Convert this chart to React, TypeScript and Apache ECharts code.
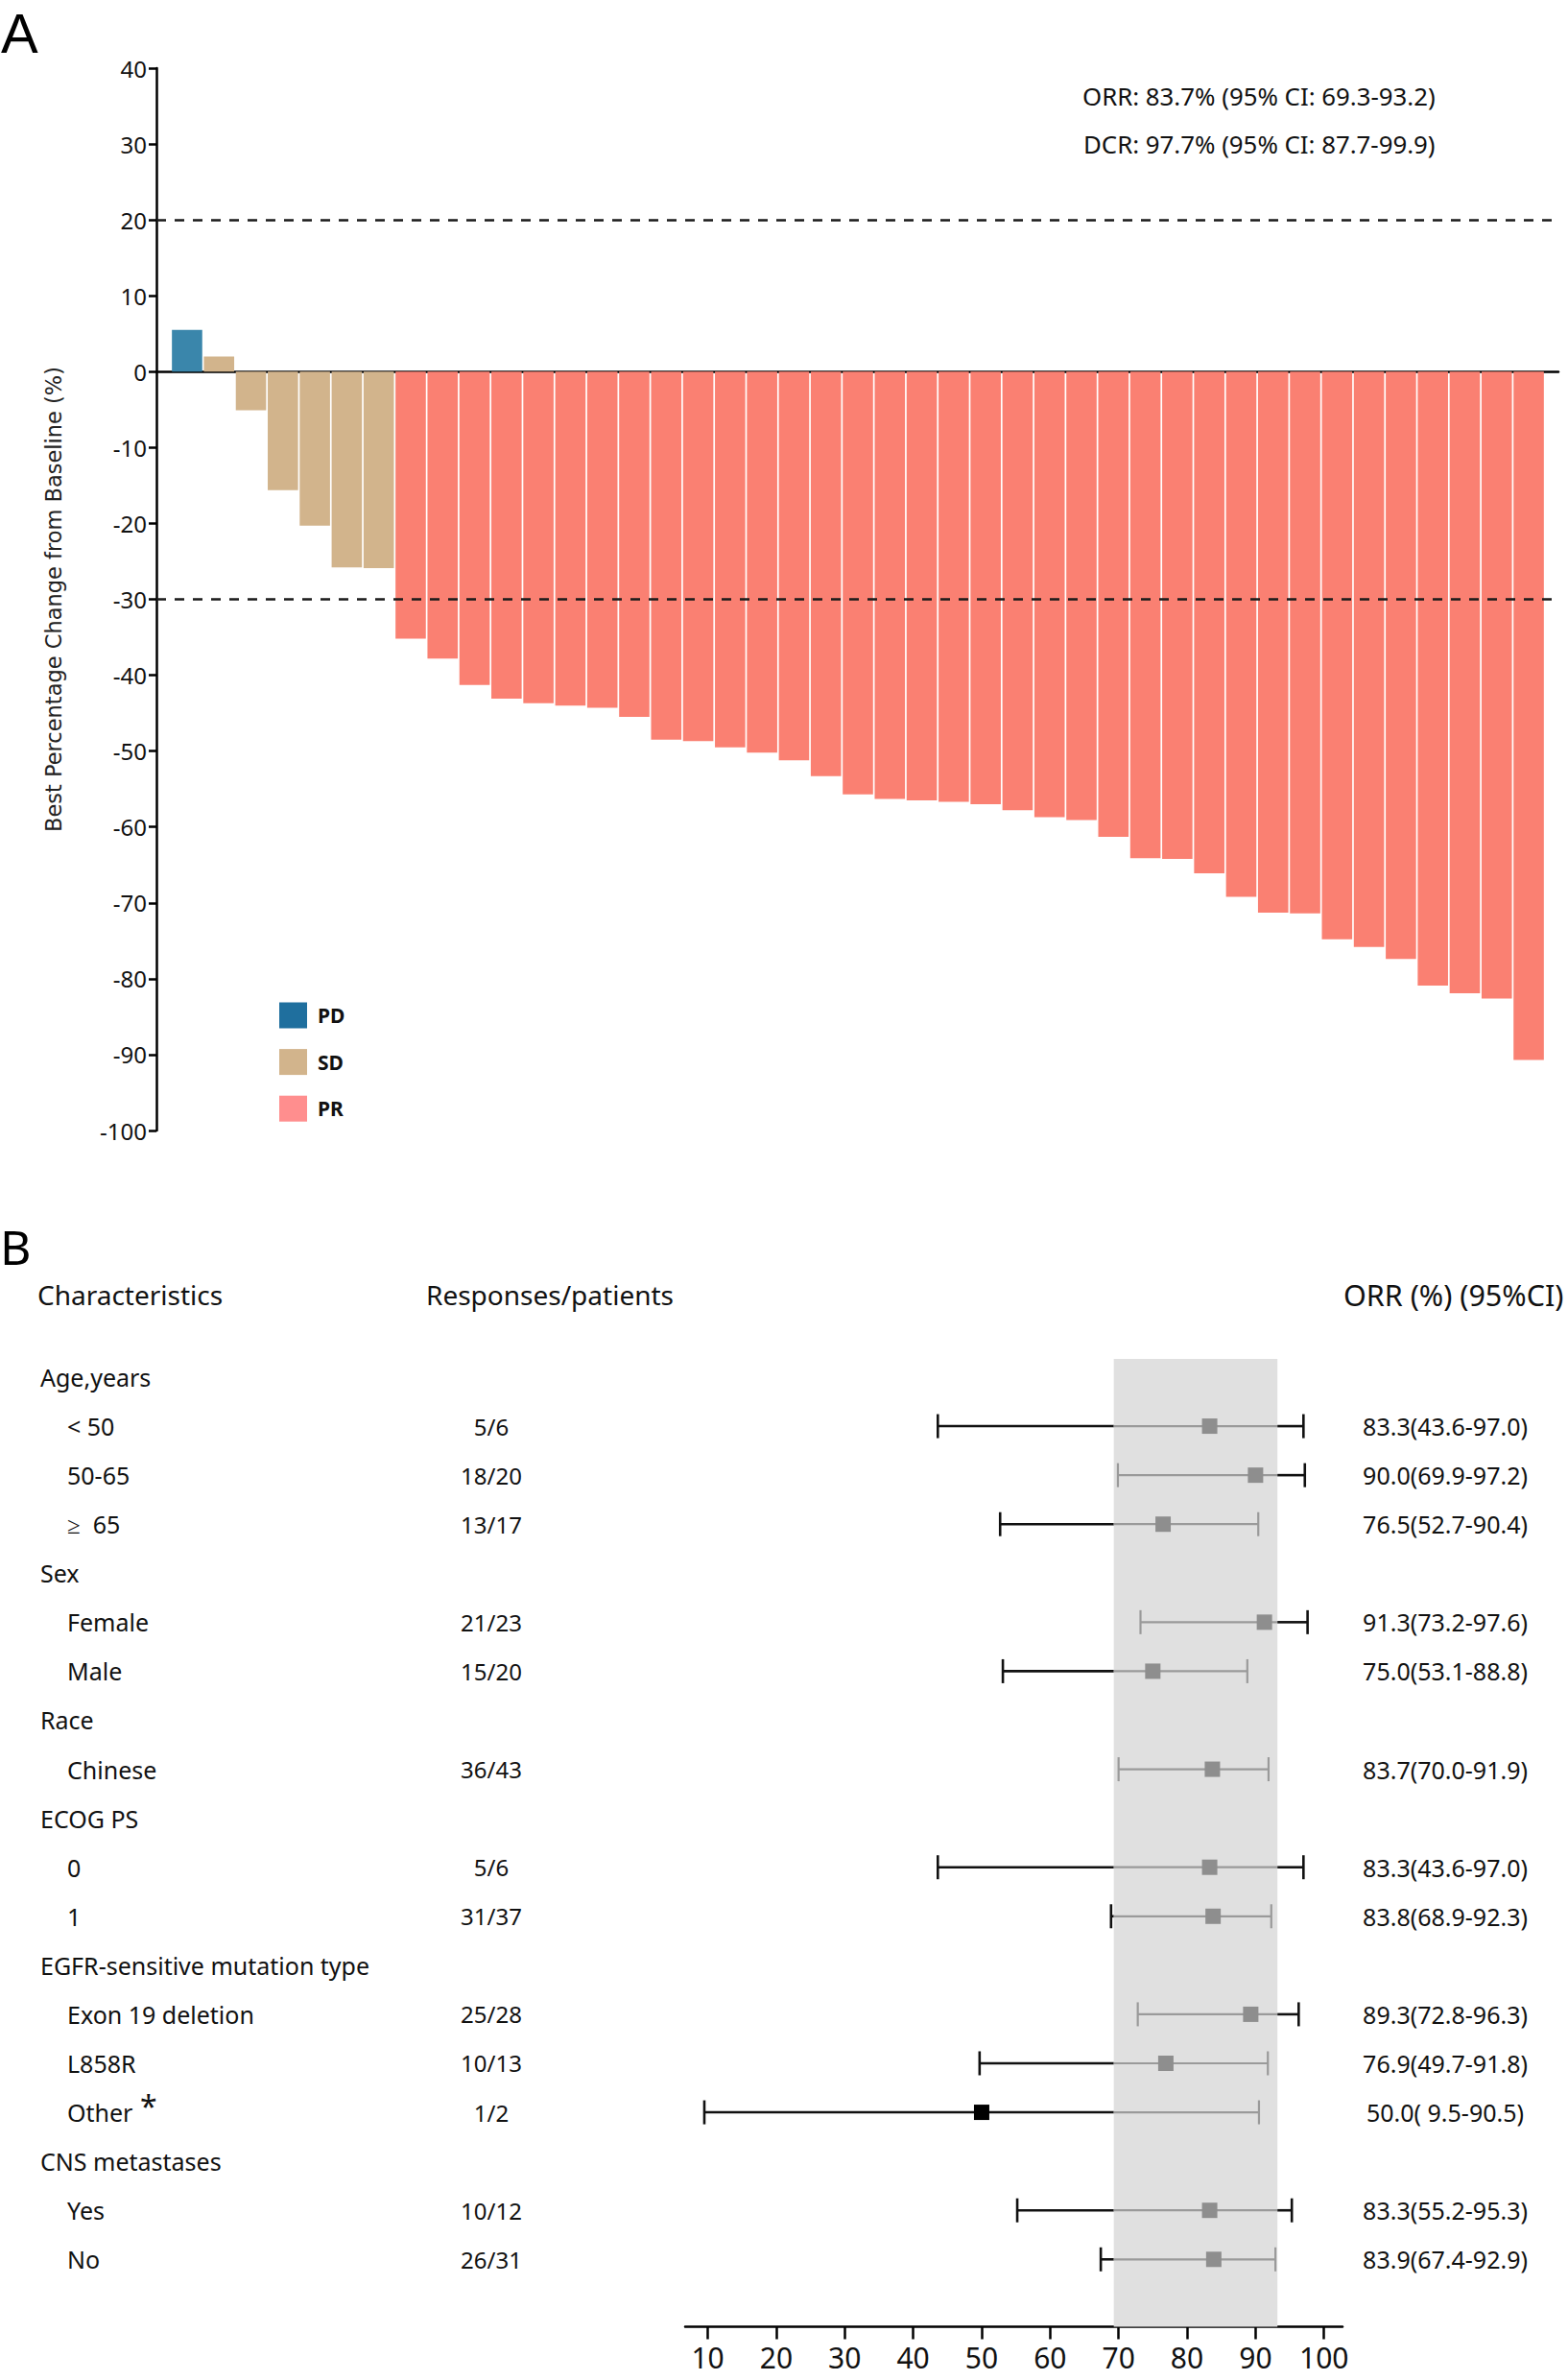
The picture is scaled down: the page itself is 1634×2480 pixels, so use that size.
import React, { useEffect, useRef } from "react";
import * as echarts from "echarts";

// ---------- Panel A: waterfall data ----------
const pdValues = [5.5];
const sdValues = [2.0, -5.1, -15.6, -20.3, -25.8, -25.9];
const prValues = [
  -35.2, -37.8, -41.3, -43.1, -43.7, -44.0, -44.3, -45.5, -48.5, -48.7, -49.5, -50.2,
  -51.2, -53.3, -55.7, -56.3, -56.5, -56.7, -57.0, -57.8, -58.7, -59.1, -61.3, -64.1,
  -64.2, -66.1, -69.2, -71.3, -71.4, -74.8, -75.8, -77.4, -80.9, -81.9, -82.6, -90.7,
];
const yMin = -100;
const yMax = 40;
const yStep = 10;
const progressionLine = 20;
const responseLine = -30;
const orrText = "ORR: 83.7% (95% CI: 69.3-93.2)";
const dcrText = "DCR: 97.7% (95% CI: 87.7-99.9)";

// ---------- Panel B: forest data ----------
const rowLabels = [
  "Age,years", "< 50", "50-65", "\u2265  65", "Sex", "Female", "Male", "Race", "Chinese",
  "ECOG PS", "0", "1", "EGFR-sensitive mutation type", "Exon 19 deletion", "L858R", "Other",
  "CNS metastases", "Yes", "No",
];
const rowIsGroup = [
  true, false, false, false, true, false, false, true, false, true, false, false, true, false,
  false, false, true, false, false,
];
const rowFootnote = [
  false, false, false, false, false, false, false, false, false, false, false, false, false,
  false, false, true, false, false, false,
];
const responses = [
  "", "5/6", "18/20", "13/17", "", "21/23", "15/20", "", "36/43", "", "5/6", "31/37", "",
  "25/28", "10/13", "1/2", "", "10/12", "26/31",
];
const orrEst = [null, 83.3, 90.0, 76.5, null, 91.3, 75.0, null, 83.7, null, 83.3, 83.8, null, 89.3, 76.9, 50.0, null, 83.3, 83.9];
const ciLow = [null, 43.6, 69.9, 52.7, null, 73.2, 53.1, null, 70.0, null, 43.6, 68.9, null, 72.8, 49.7, 9.5, null, 55.2, 67.4];
const ciHigh = [null, 97.0, 97.2, 90.4, null, 97.6, 88.8, null, 91.9, null, 97.0, 92.3, null, 96.3, 91.8, 90.5, null, 95.3, 92.9];
const overallLow = 69.3;
const overallHigh = 93.2;
const forestTicks = [10, 20, 30, 40, 50, 60, 70, 80, 90, 100];

const FONT = "Noto Sans";
const BLACK = "#111111";
const GRAY_LINE = "#9a9a9a";
const GRAY_BOX = "#8e8e8e";

function fmtOrr(i: number) {
  const e = orrEst[i] as number;
  const lo = ciLow[i] as number;
  const hi = ciHigh[i] as number;
  return e.toFixed(1) + "(" + lo.toFixed(1).padStart(4, " ") + "-" + hi.toFixed(1) + ")";
}

export default function App() {
  const ref = useRef<HTMLDivElement | null>(null);

  useEffect(() => {
    if (!ref.current) return;
    const chart = echarts.init(ref.current, null, { renderer: "svg" });

    const pdData = pdValues.map((v, k) => [k, v]);
    const sdData = sdValues.map((v, k) => [pdValues.length + k, v]);
    const prData = prValues.map((v, k) => [pdValues.length + sdValues.length + k, v]);

    const ciData = rowLabels
      .map((_, i) => (orrEst[i] == null ? null : [i, orrEst[i], ciLow[i], ciHigh[i]]))
      .filter((d) => d !== null);
    const textData = rowLabels.map((_, i) => [50, i]);

    const barCommon = {
      type: "bar",
      xAxisIndex: 0,
      yAxisIndex: 0,
      barWidth: 31.6,
      barGap: "-100%",
    };

    const option: any = {
      animation: false,
      backgroundColor: "#ffffff",
      textStyle: { fontFamily: FONT },
      grid: [
        { left: 163, top: 71, width: 1461, height: 1107 },
        { left: 714, top: 1416, width: 685, height: 1008.5 },
      ],
      legend: {
        orient: "vertical",
        left: 291,
        top: 1044.5,
        padding: 0,
        itemWidth: 29,
        itemHeight: 27,
        itemGap: 21.6,
        icon: "rect",
        textStyle: { fontSize: 21, fontWeight: "bold", color: BLACK, fontFamily: FONT, padding: [0, 0, 0, 6] },
        data: [
          { name: "PD", itemStyle: { color: "#1f6f9e" } },
          { name: "SD", itemStyle: { color: "#d2b48c" } },
          { name: "PR", itemStyle: { color: "#ff8e8e" } },
        ],
      },
      xAxis: [
        {
          gridIndex: 0,
          type: "value",
          min: -0.96,
          max: 42.93,
          axisLine: { show: true, onZero: true, lineStyle: { color: "#000", width: 2.5 } },
          axisTick: { show: false },
          axisLabel: { show: false },
          splitLine: { show: false },
        },
        {
          gridIndex: 1,
          type: "value",
          min: 6.7,
          max: 102.7,
          axisLine: { show: true, onZero: false, lineStyle: { color: "#000", width: 2.5 } },
          axisTick: { show: true, length: 13, lineStyle: { color: "#000", width: 2.5 }, customValues: forestTicks },
          axisLabel: { show: true, customValues: forestTicks, fontSize: 30, color: BLACK, margin: 17, fontFamily: FONT },
          splitLine: { show: false },
        },
      ],
      yAxis: [
        {
          gridIndex: 0,
          type: "value",
          min: yMin,
          max: yMax,
          interval: yStep,
          axisLine: { show: true, onZero: false, lineStyle: { color: "#000", width: 2.5 } },
          axisTick: { show: true, length: 8, lineStyle: { color: "#000", width: 2.5 } },
          axisLabel: { fontSize: 24, color: BLACK, margin: 10, fontFamily: FONT },
          splitLine: { show: false },
          name: "Best Percentage Change from Baseline (%)",
          nameLocation: "middle",
          nameGap: 96,
          nameTextStyle: { fontFamily: "DejaVu Sans", fontSize: 22.5, color: "#222" },
        },
        {
          gridIndex: 1,
          type: "value",
          inverse: true,
          min: -0.372,
          max: 19.375,
          show: false,
        },
      ],
      graphic: [
        { type: "text", x: 1, y: 34, style: { text: "A", fontSize: 58, fontFamily: "Liberation Sans", fill: "#000", textVerticalAlign: "middle" } },
        { type: "text", x: 0, y: 1299, style: { text: "B", fontSize: 50, fontFamily: FONT, fill: "#000", textVerticalAlign: "middle" } },
        { type: "text", x: 1128, y: 100, style: { text: orrText, fontSize: 25.8, fontFamily: FONT, fill: BLACK, textVerticalAlign: "middle" } },
        { type: "text", x: 1129, y: 150, style: { text: dcrText, fontSize: 25.8, fontFamily: FONT, fill: BLACK, textVerticalAlign: "middle" } },
        { type: "text", x: 39, y: 1349, style: { text: "Characteristics", fontSize: 28, fontFamily: FONT, fill: BLACK, textVerticalAlign: "middle" } },
        { type: "text", x: 444, y: 1349, style: { text: "Responses/patients", fontSize: 28, fontFamily: FONT, fill: BLACK, textVerticalAlign: "middle" } },
        { type: "text", x: 1400, y: 1349, style: { text: "ORR (%) (95%CI)", fontSize: 30.5, fontFamily: FONT, fill: BLACK, textVerticalAlign: "middle" } },
      ],
      series: [
        { ...barCommon, name: "PD", data: pdData, itemStyle: { color: "#3a86ab" } },
        { ...barCommon, name: "SD", data: sdData, itemStyle: { color: "#d2b48c" } },
        {
          ...barCommon,
          name: "PR",
          data: prData,
          itemStyle: { color: "#fa8072" },
          markLine: {
            symbol: "none",
            silent: true,
            label: { show: false },
            lineStyle: { type: [10, 9], color: "#1a1a1a", width: 2.5 },
            data: [{ yAxis: progressionLine }, { yAxis: responseLine }],
          },
        },
        {
          type: "custom",
          name: "forestText",
          xAxisIndex: 1,
          yAxisIndex: 1,
          z: 1,
          clip: false,
          data: textData,
          markArea: {
            silent: true,
            itemStyle: { color: "#e0e0e0" },
            data: [[{ xAxis: overallLow }, { xAxis: overallHigh }]],
          },
          renderItem: (params: any, api: any) => {
            const i = params.dataIndex;
            const y = api.coord([50, api.value(1)])[1];
            const children: any[] = [];
            children.push({
              type: "text",
              x: rowIsGroup[i] ? 42 : 70,
              y,
              style: { text: rowLabels[i], fontSize: 25, fontFamily: FONT, fill: BLACK, textVerticalAlign: "middle" },
            });
            if (rowFootnote[i]) {
              children.push({
                type: "text",
                x: 146,
                y: y - 7,
                style: { text: "*", fontSize: 32, fontFamily: FONT, fill: BLACK, textVerticalAlign: "middle" },
              });
            }
            if (responses[i]) {
              children.push({
                type: "text",
                x: 512,
                y,
                style: { text: responses[i], fontSize: 24, fontFamily: FONT, fill: BLACK, textAlign: "center", textVerticalAlign: "middle" },
              });
            }
            if (orrEst[i] != null) {
              children.push({
                type: "text",
                x: 1506,
                y,
                style: { text: fmtOrr(i), fontSize: 25, fontFamily: FONT, fill: BLACK, textAlign: "center", textVerticalAlign: "middle" },
              });
            }
            return { type: "group", children };
          },
        },
        {
          type: "custom",
          name: "forestCI",
          xAxisIndex: 1,
          yAxisIndex: 1,
          z: 3,
          clip: false,
          encode: { x: [1, 2, 3], y: 0 },
          data: ciData,
          renderItem: (params: any, api: any) => {
            const row = api.value(0);
            const est = api.value(1);
            const lo = api.value(2);
            const hi = api.value(3);
            const y = api.coord([est, row])[1];
            const X = (v: number) => api.coord([v, row])[0];
            const children: any[] = [];
            const seg = (a: number, b: number, color: string, w: number) =>
              children.push({ type: "line", shape: { x1: X(a), y1: y, x2: X(b), y2: y }, style: { stroke: color, lineWidth: w } });
            if (lo < overallLow) seg(lo, Math.min(hi, overallLow), BLACK, 2.6);
            const gLo = Math.max(lo, overallLow);
            const gHi = Math.min(hi, overallHigh);
            if (gHi > gLo) seg(gLo, gHi, GRAY_LINE, 2.2);
            if (hi > overallHigh) seg(Math.max(lo, overallHigh), hi, BLACK, 2.6);
            const cap = (v: number) => {
              const inside = v >= overallLow && v <= overallHigh;
              children.push({
                type: "line",
                shape: { x1: X(v), y1: y - 12.5, x2: X(v), y2: y + 12.5 },
                style: { stroke: inside ? GRAY_LINE : BLACK, lineWidth: inside ? 2.2 : 2.6 },
              });
            };
            cap(lo);
            cap(hi);
            const inside = est >= overallLow && est <= overallHigh;
            children.push({
              type: "rect",
              shape: { x: X(est) - 8, y: y - 8, width: 16, height: 16 },
              style: { fill: inside ? GRAY_BOX : "#000" },
            });
            return { type: "group", children };
          },
        },
      ],
    };

    chart.setOption(option);
    return () => chart.dispose();
  }, []);

  return (
    <div
      ref={ref}
      style={{ position: "absolute", left: 0, top: 0, width: 1634, height: 2480, background: "#fff" }}
    />
  );
}
